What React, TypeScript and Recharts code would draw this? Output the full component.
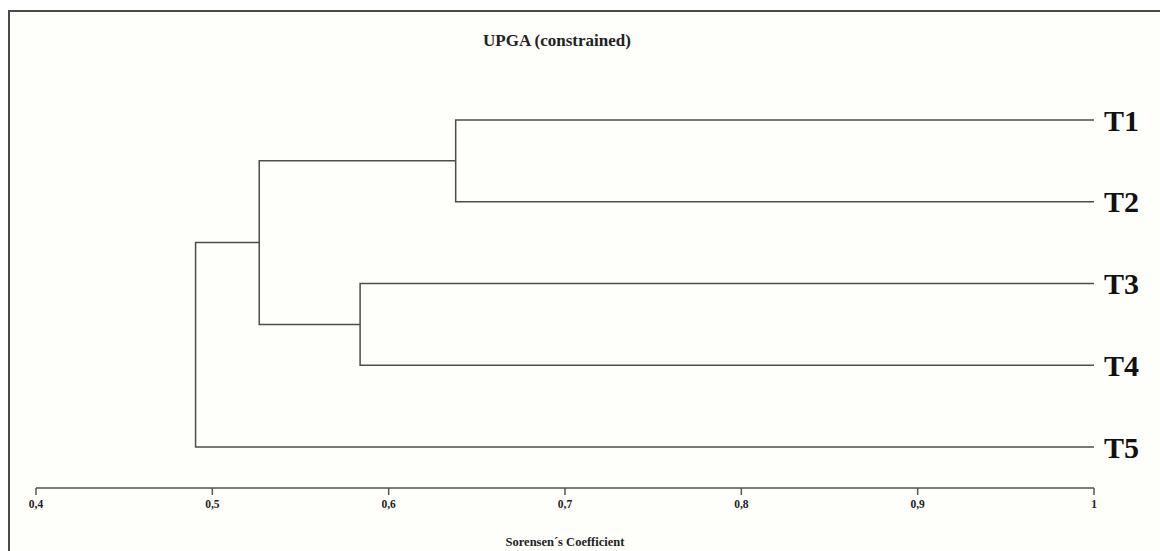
import { ComposedChart, Line, XAxis, YAxis, Label } from "recharts";

// leaves, top to bottom
const leaves = ["T1", "T2", "T3", "T4", "T5"];

// merges (UPGMA, Sorensen similarity)
const clusterNames = ["T1+T2", "T3+T4", "T1-T4", "T1-T5"];
const leftChild = ["T1", "T3", "T1+T2", "T1-T4"];
const rightChild = ["T2", "T4", "T3+T4", "T5"];
const mergeLevel = [0.638, 0.5838, 0.5266, 0.4905];

const xTicks = [0.4, 0.5, 0.6, 0.7, 0.8, 0.9, 1];

const FONT = "'Liberation Serif', 'Times New Roman', serif";

type Pt = { x: number; y: number };

// where each node sits: x = similarity level, y = row position
const nodePos: Record<string, Pt> = {};
leaves.forEach((name, i) => {
  nodePos[name] = { x: 1, y: i };
});
const segments: Pt[][] = clusterNames.map((name, i) => {
  const a = nodePos[leftChild[i]];
  const b = nodePos[rightChild[i]];
  const lvl = mergeLevel[i];
  nodePos[name] = { x: lvl, y: (a.y + b.y) / 2 };
  return [
    { x: a.x, y: a.y },
    { x: lvl, y: a.y },
    { x: lvl, y: b.y },
    { x: b.x, y: b.y },
  ];
});

const fmt = (v: number) => String(v).replace(".", ",");

export default function App() {
  return (
    <div style={{ position: "absolute", left: 0, top: 0, width: 1160, height: 551, background: "#fff", fontFamily: FONT }}>
      <div
        style={{
          position: "absolute",
          left: 8,
          top: 10,
          right: 0,
          bottom: 0,
          borderTop: "2px solid #4a4a4a",
          borderLeft: "2px solid #4a4a4a",
          background: "#fefefb",
        }}
      />
      <div
        style={{
          position: "absolute",
          left: 457,
          top: 32,
          width: 200,
          textAlign: "center",
          fontSize: 17,
          lineHeight: "17px",
          fontWeight: "bold",
          color: "#222",
        }}
      >
        UPGA (constrained)
      </div>
      <div style={{ position: "absolute", left: 0, top: 0 }}>
        <ComposedChart width={1160} height={551} margin={{ top: 79, right: 0, bottom: 0, left: 36 }}>
          <XAxis
            type="number"
            dataKey="x"
            domain={[0.4, 1]}
            ticks={xTicks}
            tickFormatter={fmt}
            height={63}
            tickSize={7}
            tickMargin={5}
            interval={0}
            allowDataOverflow
            axisLine={{ stroke: "#7d7d7d", strokeWidth: 2 }}
            tickLine={{ stroke: "#555", strokeWidth: 1.5 }}
            tick={{ fill: "#222", fontSize: 11.5, fontWeight: "bold", fontFamily: FONT }}
          >
            <Label
              value="Sorensen´s Coefficient"
              position="insideBottom"
              offset={5}
              style={{ fill: "#222", fontSize: 12.5, fontWeight: "bold", fontFamily: FONT }}
            />
          </XAxis>
          <YAxis
            type="number"
            dataKey="y"
            orientation="right"
            reversed
            domain={[-0.5, 4.5]}
            ticks={leaves.map((_, i) => i)}
            tickFormatter={(i: number) => leaves[i] ?? ""}
            width={66}
            axisLine={false}
            tickLine={false}
            tickMargin={4}
            interval={0}
            tick={{ fill: "#111", fontSize: 30, fontWeight: "bold", fontFamily: FONT, textAnchor: "start" }}
          />
          {segments.map((seg, i) => (
            <Line
              key={clusterNames[i]}
              data={seg}
              dataKey="y"
              type="linear"
              stroke="#4d4d4d"
              strokeWidth={1.5}
              dot={false}
              activeDot={false}
              isAnimationActive={false}
            />
          ))}
        </ComposedChart>
      </div>
    </div>
  );
}
